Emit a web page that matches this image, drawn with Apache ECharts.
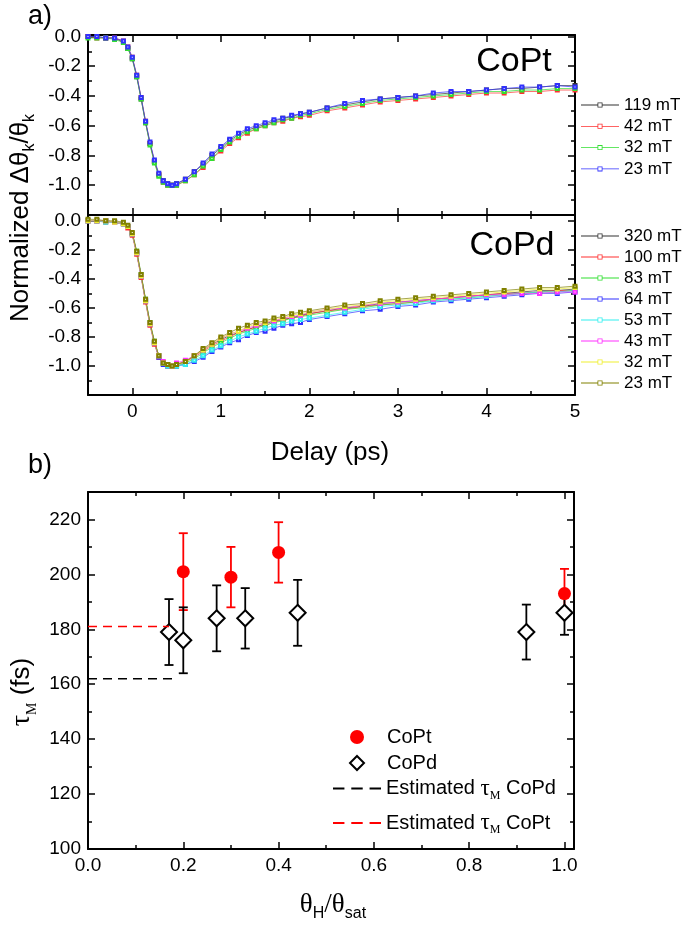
<!DOCTYPE html>
<html>
<head>
<meta charset="utf-8">
<script src="https://cdn.jsdelivr.net/npm/echarts@6/dist/echarts.min.js"></script>
<style>html,body{margin:0;padding:0;background:#fff}#chart{width:685px;height:930px}</style>
</head>
<body>
<div id="chart"></div>
<script>
const SANS = '"Liberation Sans", Arial, sans-serif';
const SERIF = '"Liberation Serif", "Times New Roman", serif';

// delay axis (ps), shared by every trace of panel a)
const delay = [-0.5,-0.4,-0.3,-0.2,-0.1,-0.05,
  0,0.05,0.1,0.15,0.2,0.25,0.3,0.35,0.4,0.45,0.5,
  0.6,0.7,0.8,0.9,1.0,1.1,1.2,1.3,1.4,1.5,1.6,1.7,1.8,1.9,2.0,
  2.2,2.4,2.6,2.8,3.0,3.2,3.4,3.6,3.8,4.0,4.2,4.4,4.6,4.8,5.0];

// CoPt traces
const copt119 = [0.00,0.00,-0.01,-0.01,-0.04,-0.08,
  -0.15,-0.27,-0.42,-0.58,-0.72,-0.84,-0.93,-0.97,-0.99,-1.00,-0.99,
  -0.96,-0.91,-0.86,-0.80,-0.75,-0.70,-0.66,-0.63,-0.61,-0.59,-0.57,-0.55,-0.54,-0.52,-0.51,
  -0.48,-0.46,-0.44,-0.42,-0.41,-0.40,-0.39,-0.38,-0.37,-0.36,-0.35,-0.35,-0.34,-0.33,-0.33];
const copt42 = [0.00,-0.01,-0.01,-0.01,-0.03,-0.07,
  -0.14,-0.26,-0.41,-0.57,-0.72,-0.84,-0.93,-0.98,-1.00,-1.00,-1.00,
  -0.97,-0.93,-0.88,-0.82,-0.77,-0.72,-0.68,-0.65,-0.62,-0.60,-0.58,-0.57,-0.55,-0.54,-0.53,
  -0.50,-0.48,-0.46,-0.44,-0.43,-0.42,-0.41,-0.40,-0.39,-0.38,-0.38,-0.37,-0.37,-0.36,-0.36];
const copt32 = [-0.01,-0.01,-0.01,-0.02,-0.04,-0.08,
  -0.15,-0.27,-0.42,-0.58,-0.73,-0.85,-0.94,-0.98,-1.00,-1.00,-1.00,
  -0.97,-0.93,-0.87,-0.82,-0.76,-0.71,-0.67,-0.64,-0.62,-0.60,-0.58,-0.56,-0.55,-0.53,-0.52,
  -0.49,-0.47,-0.45,-0.43,-0.42,-0.41,-0.40,-0.39,-0.38,-0.37,-0.37,-0.36,-0.36,-0.35,-0.35];
const copt23 = [0.00,0.00,-0.01,-0.01,-0.03,-0.07,
  -0.14,-0.26,-0.41,-0.57,-0.71,-0.83,-0.92,-0.97,-0.99,-1.00,-0.99,
  -0.96,-0.91,-0.85,-0.79,-0.74,-0.69,-0.65,-0.62,-0.60,-0.58,-0.56,-0.55,-0.53,-0.52,-0.51,
  -0.48,-0.45,-0.43,-0.42,-0.41,-0.40,-0.38,-0.37,-0.37,-0.36,-0.35,-0.34,-0.34,-0.33,-0.34];

// CoPd traces
const copd320 = [0.00,0.00,0.00,-0.01,-0.02,-0.04,
  -0.09,-0.22,-0.38,-0.55,-0.71,-0.84,-0.93,-0.98,-0.99,-1.00,-0.99,
  -0.97,-0.93,-0.89,-0.85,-0.82,-0.79,-0.77,-0.75,-0.73,-0.71,-0.69,-0.68,-0.67,-0.65,-0.64,
  -0.62,-0.60,-0.59,-0.57,-0.56,-0.55,-0.54,-0.53,-0.52,-0.51,-0.50,-0.49,-0.48,-0.48,-0.47];
const copd100 = [0.00,0.00,-0.01,-0.01,-0.02,-0.05,
  -0.10,-0.23,-0.39,-0.56,-0.72,-0.85,-0.94,-0.98,-1.00,-1.00,-0.99,
  -0.97,-0.94,-0.90,-0.86,-0.83,-0.80,-0.77,-0.75,-0.73,-0.72,-0.70,-0.68,-0.67,-0.66,-0.64,
  -0.62,-0.61,-0.59,-0.58,-0.57,-0.56,-0.54,-0.53,-0.52,-0.51,-0.50,-0.50,-0.49,-0.48,-0.48];
const copd83 = [0.00,0.00,0.00,-0.01,-0.02,-0.04,
  -0.09,-0.21,-0.37,-0.54,-0.70,-0.83,-0.93,-0.98,-0.99,-1.00,-1.00,
  -0.98,-0.95,-0.91,-0.87,-0.84,-0.81,-0.78,-0.76,-0.74,-0.72,-0.70,-0.69,-0.67,-0.66,-0.65,
  -0.63,-0.61,-0.60,-0.58,-0.57,-0.56,-0.55,-0.54,-0.53,-0.52,-0.51,-0.50,-0.49,-0.49,-0.48];
const copd64 = [0.00,0.00,0.00,-0.01,-0.02,-0.04,
  -0.09,-0.22,-0.38,-0.55,-0.71,-0.84,-0.94,-0.99,-1.00,-1.00,-1.00,
  -0.99,-0.97,-0.94,-0.90,-0.87,-0.84,-0.82,-0.79,-0.77,-0.76,-0.74,-0.72,-0.71,-0.70,-0.68,
  -0.66,-0.64,-0.62,-0.61,-0.59,-0.58,-0.56,-0.55,-0.54,-0.53,-0.52,-0.51,-0.50,-0.50,-0.49];
const copd53 = [0.00,0.00,-0.01,-0.01,-0.02,-0.04,
  -0.09,-0.22,-0.38,-0.55,-0.71,-0.84,-0.93,-0.98,-1.00,-1.00,-1.00,
  -0.99,-0.96,-0.93,-0.89,-0.86,-0.83,-0.80,-0.78,-0.76,-0.74,-0.72,-0.71,-0.69,-0.68,-0.67,
  -0.65,-0.63,-0.61,-0.59,-0.58,-0.57,-0.55,-0.54,-0.53,-0.52,-0.51,-0.50,-0.49,-0.49,-0.48];
const copd43 = [0.00,0.00,0.00,-0.01,-0.02,-0.04,
  -0.09,-0.22,-0.38,-0.55,-0.71,-0.84,-0.93,-0.97,-0.99,-1.00,-0.98,
  -0.96,-0.93,-0.89,-0.85,-0.81,-0.78,-0.76,-0.74,-0.72,-0.70,-0.69,-0.67,-0.66,-0.65,-0.63,
  -0.61,-0.60,-0.58,-0.57,-0.56,-0.55,-0.54,-0.53,-0.52,-0.51,-0.51,-0.50,-0.50,-0.49,-0.49];
const copd32 = [0.00,0.00,0.00,-0.01,-0.02,-0.04,
  -0.09,-0.22,-0.38,-0.55,-0.71,-0.84,-0.93,-0.98,-0.99,-1.00,-0.99,
  -0.97,-0.93,-0.89,-0.85,-0.81,-0.78,-0.76,-0.73,-0.71,-0.70,-0.68,-0.67,-0.65,-0.64,-0.63,
  -0.61,-0.59,-0.58,-0.56,-0.55,-0.54,-0.53,-0.52,-0.51,-0.50,-0.49,-0.48,-0.47,-0.47,-0.46];
const copd23 = [0.01,0.01,0.00,0.00,-0.01,-0.03,
  -0.08,-0.21,-0.37,-0.54,-0.70,-0.83,-0.93,-0.98,-0.99,-1.00,-0.99,
  -0.97,-0.93,-0.88,-0.84,-0.80,-0.77,-0.74,-0.72,-0.70,-0.69,-0.67,-0.66,-0.64,-0.63,-0.62,
  -0.60,-0.58,-0.57,-0.55,-0.54,-0.53,-0.52,-0.51,-0.50,-0.49,-0.48,-0.47,-0.46,-0.46,-0.45];

const coptNames = ['119 mT','42 mT','32 mT','23 mT'];
const coptColors = ['#333333','#ff3030','#30e030','#3030ff'];
const coptCurves = [copt119, copt42, copt32, copt23];
// trailing space keeps the CoPd names apart from the CoPt ones
const copdNames = ['320 mT','100 mT','83 mT','64 mT','53 mT','43 mT','32 mT ','23 mT '];
const copdColors = ['#333333','#ff3030','#30e030','#3030ff','#30f0f0','#ff30ff','#f0f030','#808000'];
const copdCurves = [copd320, copd100, copd83, copd64, copd53, copd43, copd32, copd23];

// panel b) tau_M vs theta_H / theta_sat
const coptX  = [0.2, 0.3, 0.4, 1.0];
const coptY  = [201, 199, 208, 193];
const coptLo = [187, 188, 197, 185];
const coptHi = [215, 210, 219, 202];
const copdX  = [0.17, 0.2, 0.27, 0.33, 0.44, 0.92, 1.0];
const copdY  = [179, 176, 184, 184, 186, 179, 186];
const copdLo = [167, 164, 172, 173, 174, 169, 178];
const copdHi = [191, 188, 196, 195, 198, 189, 193];
const estCopd = [[0, 162], [0.18, 162]];
const estCopt = [[0, 181], [0.17, 181]];

function edge(grid, pos, range, major, minor, fmt) {
  const common = {type: 'value', gridIndex: grid, position: pos, min: range[0], max: range[1],
    splitLine: {show: false}};
  const tickStyle = {color: '#000', width: 1.5};
  const main = Object.assign({}, common, {
    axisLine: {show: true, onZero: false, lineStyle: {color: '#000', width: 2}},
    axisTick: {show: true, inside: true, length: 7, lineStyle: tickStyle},
    axisLabel: fmt ? {show: true, formatter: fmt, color: '#000', fontSize: 19, fontFamily: SANS, margin: 7}
                   : {show: false}
  });
  if (major) main.interval = major; else main.splitNumber = 5;
  const small = Object.assign({}, common, {
    interval: minor,
    axisLine: {show: false, onZero: false},
    axisTick: {show: true, inside: true, length: 4, lineStyle: tickStyle},
    axisLabel: {show: false}
  });
  return [main, small];
}

const onStep = (v, step) => Math.abs(v / step - Math.round(v / step)) < 1e-6;
const intFmt = v => onStep(v, 1) ? String(Math.round(v)) : '';
const ayFmt = v => (onStep(v, 0.2) && v > -1.1) ? (Math.abs(v) < 1e-9 ? 0 : v).toFixed(1) : '';
const bxFmt = v => onStep(v, 0.2) ? v.toFixed(1) : '';
const byFmt = v => (onStep(v, 20) && v <= 220) ? String(v) : '';

const markPath = 'path://M0,2.6h16.5v0.8h-16.5z M16.5,0.5h5v5h-5z M17.3,1.3v3.4h3.4v-3.4z M21.5,2.6h16.5v0.8h-16.5z';
const dashPath = 'path://M0,0h10v1.6h-10z M16,0h10v1.6h-10z M32,0h10v1.6h-10z';

function traceSeries(names, colors, curves, xi, yi) {
  return names.map((n, k) => ({
    name: n, type: 'line', xAxisIndex: xi, yAxisIndex: yi,
    data: delay.map((t, i) => [t, curves[k][i]]),
    symbol: 'emptyRect', symbolSize: 3,
    lineStyle: {color: colors[k], width: 0.7},
    itemStyle: {color: colors[k], borderWidth: 0.6},
    z: 3
  }));
}

function errorBars(color) {
  return function (params, api) {
    const x = api.value(0);
    const lo = api.coord([x, api.value(1)]);
    const hi = api.coord([x, api.value(2)]);
    const w = 4.5;
    const st = {stroke: color, lineWidth: 1.8};
    return {type: 'group', children: [
      {type: 'line', shape: {x1: lo[0], y1: lo[1], x2: hi[0], y2: hi[1]}, style: st},
      {type: 'line', shape: {x1: lo[0] - w, y1: lo[1], x2: lo[0] + w, y2: lo[1]}, style: st},
      {type: 'line', shape: {x1: hi[0] - w, y1: hi[1], x2: hi[0] + w, y2: hi[1]}, style: st}
    ]};
  };
}

const chart = echarts.init(document.getElementById('chart'), null, {renderer: 'canvas'});

const option = {
  animation: false,
  backgroundColor: '#fff',
  grid: [
    {left: 88, top: 35, width: 487, height: 180},
    {left: 88, top: 215, width: 487, height: 180},
    {left: 88, top: 492, width: 486, height: 357}
  ],
  xAxis: [
    ...edge(0, 'bottom', [-0.5, 5], null, 0.5, null),
    ...edge(0, 'top', [-0.5, 5], null, 0.5, null),
    ...edge(1, 'top', [-0.5, 5], null, 0.5, null),
    ...edge(1, 'bottom', [-0.5, 5], null, 0.5, intFmt),
    ...edge(2, 'bottom', [0, 1.02], 0.2, 0.1, bxFmt),
    ...edge(2, 'top', [0, 1.02], 0.2, 0.1, null)
  ],
  yAxis: [
    ...edge(0, 'left', [-1.2, 0.01], 0.2, 0.1, ayFmt),
    ...edge(0, 'right', [-1.2, 0.01], 0.2, 0.1, null),
    ...edge(1, 'left', [-1.2, 0.04], 0.2, 0.1, ayFmt),
    ...edge(1, 'right', [-1.2, 0.04], 0.2, 0.1, null),
    ...edge(2, 'left', [100, 230], 20, 10, byFmt),
    ...edge(2, 'right', [100, 230], 20, 10, null)
  ],
  legend: [
    {data: coptNames, orient: 'vertical', left: 581, top: 96.5, padding: 0, selectedMode: false,
     icon: markPath, itemWidth: 38, itemHeight: 5, itemGap: 4.3,
     textStyle: {fontSize: 17, lineHeight: 17, fontFamily: SANS, color: '#000'}},
    {data: copdNames, orient: 'vertical', left: 581, top: 227.5, padding: 0, selectedMode: false,
     icon: markPath, itemWidth: 38, itemHeight: 5, itemGap: 4,
     textStyle: {fontSize: 17, lineHeight: 17, fontFamily: SANS, color: '#000'}},
    {data: ['CoPt', 'CoPd'], orient: 'vertical', left: 349, top: 727, padding: 0, selectedMode: false,
     itemWidth: 14, itemHeight: 14, itemGap: 6,
     textStyle: {fontSize: 20, lineHeight: 20, fontFamily: SANS, color: '#000', padding: [0, 0, 0, 18]}},
    {data: ['Estimated τM CoPd', 'Estimated τM CoPt'], orient: 'vertical', left: 333, top: 777,
     padding: 0, selectedMode: false, icon: dashPath, itemWidth: 48, itemHeight: 2, itemGap: 10,
     formatter: n => '{n|Estimated }{t|τ}{s|M}{n| ' + n.slice(-4) + '}',
     textStyle: {color: '#000', rich: {
       n: {fontSize: 20, fontFamily: SANS, color: '#000', lineHeight: 26, verticalAlign: 'middle'},
       t: {fontSize: 23, fontFamily: SERIF, color: '#000', lineHeight: 26, verticalAlign: 'middle'},
       s: {fontSize: 12, fontFamily: SERIF, color: '#000', lineHeight: 8, verticalAlign: 'bottom'}
     }}}
  ],
  graphic: [
    {type: 'text', x: 28, y: 17, style: {text: 'a)', fontSize: 27, fontFamily: SANS, fill: '#000', verticalAlign: 'middle'}},
    {type: 'text', x: 28, y: 466, style: {text: 'b)', fontSize: 27, fontFamily: SANS, fill: '#000', verticalAlign: 'middle'}},
    {type: 'text', x: 514, y: 62, style: {text: 'CoPt', fontSize: 34, fontFamily: SANS, fill: '#000', align: 'center', verticalAlign: 'middle'}},
    {type: 'text', x: 512, y: 246, style: {text: 'CoPd', fontSize: 34, fontFamily: SANS, fill: '#000', align: 'center', verticalAlign: 'middle'}},
    {type: 'text', x: 330, y: 453, style: {text: 'Delay (ps)', fontSize: 26, fontFamily: SANS, fill: '#000', align: 'center', verticalAlign: 'middle'}},
    {type: 'text', x: 21, y: 218, rotation: Math.PI / 2, style: {
      text: '{n|Normalized Δθ}{s|k}{n|/θ}{s|k}', align: 'center', verticalAlign: 'middle',
      rich: {
        n: {fontSize: 26, fontFamily: SANS, fill: '#000', lineHeight: 34, verticalAlign: 'middle'},
        s: {fontSize: 16, fontFamily: SANS, fill: '#000', lineHeight: 12, verticalAlign: 'bottom'}
      }}},
    {type: 'text', x: 22, y: 692, rotation: Math.PI / 2, style: {
      text: '{t|τ}{s|M}{n| (fs)}', align: 'center', verticalAlign: 'middle',
      rich: {
        t: {fontSize: 28, fontFamily: SERIF, fill: '#000', lineHeight: 34, verticalAlign: 'middle'},
        s: {fontSize: 14, fontFamily: SERIF, fill: '#000', lineHeight: 10, verticalAlign: 'bottom'},
        n: {fontSize: 26, fontFamily: SANS, fill: '#000', lineHeight: 34, verticalAlign: 'middle'}
      }}},
    {type: 'text', x: 333, y: 905, style: {
      text: '{t|θ}{s|H}{t|/θ}{s|sat}', align: 'center', verticalAlign: 'middle',
      rich: {
        t: {fontSize: 27, fontFamily: SERIF, fill: '#000', lineHeight: 34, verticalAlign: 'middle'},
        s: {fontSize: 16, fontFamily: SANS, fill: '#000', lineHeight: 12, verticalAlign: 'bottom'}
      }}}
  ],
  series: [
    ...traceSeries(coptNames, coptColors, coptCurves, 0, 0),
    ...traceSeries(copdNames, copdColors, copdCurves, 6, 4),
    {name: 'Estimated τM CoPd', type: 'line', xAxisIndex: 8, yAxisIndex: 8, data: estCopd,
     symbol: 'none', lineStyle: {color: '#000', width: 1.6, type: [9, 6]}, itemStyle: {color: '#000'}},
    {name: 'Estimated τM CoPt', type: 'line', xAxisIndex: 8, yAxisIndex: 8, data: estCopt,
     symbol: 'none', lineStyle: {color: '#ff0000', width: 1.6, type: [9, 6]}, itemStyle: {color: '#ff0000'}},
    {name: 'CoPt error', type: 'custom', xAxisIndex: 8, yAxisIndex: 8,
     data: coptX.map((x, i) => [x, coptLo[i], coptHi[i]]), encode: {x: 0, y: [1, 2]},
     renderItem: errorBars('#ff0000')},
    {name: 'CoPt', type: 'scatter', xAxisIndex: 8, yAxisIndex: 8,
     data: coptX.map((x, i) => [x, coptY[i]]), symbol: 'circle', symbolSize: 13,
     itemStyle: {color: '#ff0000', opacity: 1}},
    {name: 'CoPd error', type: 'custom', xAxisIndex: 8, yAxisIndex: 8,
     data: copdX.map((x, i) => [x, copdLo[i], copdHi[i]]), encode: {x: 0, y: [1, 2]},
     renderItem: errorBars('#000000')},
    {name: 'CoPd', type: 'scatter', xAxisIndex: 8, yAxisIndex: 8,
     data: copdX.map((x, i) => [x, copdY[i]]), symbol: 'diamond', symbolSize: 16,
     itemStyle: {color: '#ffffff', borderColor: '#000000', borderWidth: 2, opacity: 1}}
  ]
};

chart.setOption(option);
</script>
</body>
</html>
